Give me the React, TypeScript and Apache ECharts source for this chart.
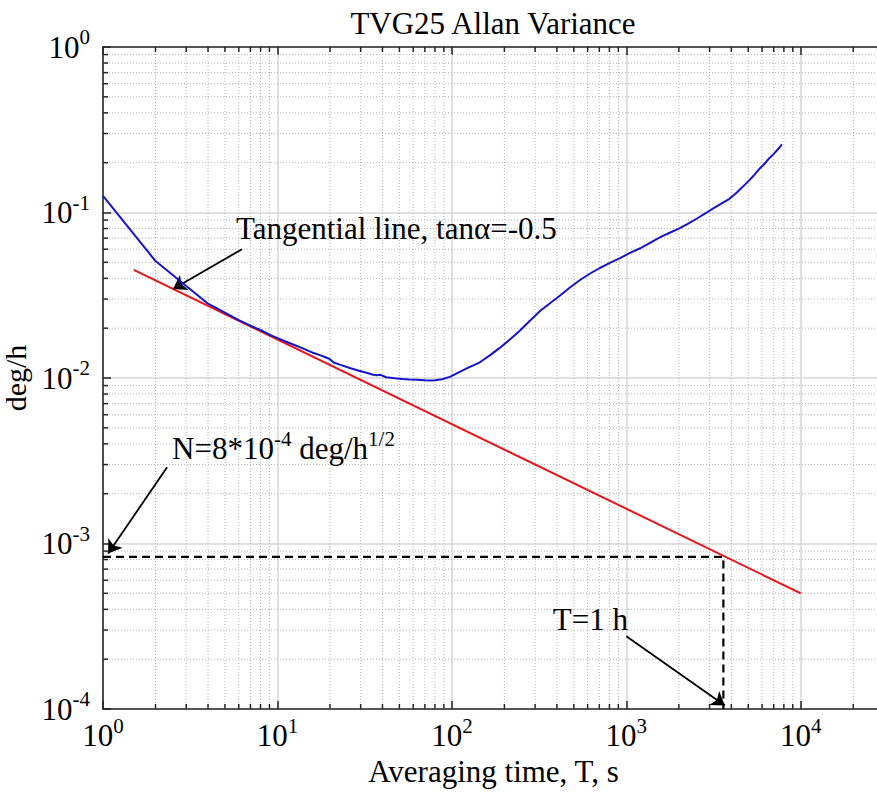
import React, { useEffect, useRef } from 'react';
import * as echarts from 'echarts';

// ---- data ----
const blueT = [1, 2, 3, 4, 5, 6, 7, 8, 9, 10, 12, 14, 16, 18, 19, 20, 21, 23, 26, 29, 32, 35, 37, 39, 42, 47, 52, 57, 63, 70, 75, 80, 88, 98, 111, 125, 144, 165, 188, 215, 245, 280, 320, 365, 417, 475, 543, 620, 705, 800, 920, 1050, 1200, 1350, 1510, 1620, 1800, 2000, 2250, 2540, 2850, 3150, 3500, 3900, 4300, 4900, 5400, 5800, 6200, 6600, 7000, 7400, 7800];
const blueV = [0.126, 0.0509, 0.036, 0.0281, 0.0248, 0.0224, 0.0207, 0.0195, 0.0183, 0.0174, 0.0161, 0.0151, 0.0142, 0.0136, 0.0133, 0.013, 0.0124, 0.012, 0.0115, 0.0111, 0.0108, 0.0105, 0.0104, 0.01045, 0.0101, 0.00995, 0.00985, 0.0098, 0.00975, 0.00968, 0.00966, 0.0097, 0.00982, 0.0102, 0.0109, 0.0116, 0.0124, 0.0137, 0.0152, 0.0171, 0.0193, 0.0222, 0.0254, 0.0283, 0.0315, 0.0352, 0.0391, 0.0428, 0.0462, 0.0495, 0.053, 0.057, 0.0608, 0.065, 0.0695, 0.0722, 0.076, 0.08, 0.0855, 0.092, 0.099, 0.106, 0.113, 0.121, 0.132, 0.151, 0.168, 0.184, 0.197, 0.213, 0.226, 0.241, 0.258];

const redT = [1.5, 10000];
const redV = [0.045, 0.0005];

const dashT = [1, 3600, 3600];
const dashV = [0.00083, 0.00083, 0.0001];

const arrowFromT = [6.26, 2.33, 1000];
const arrowFromV = [0.06, 0.00289, 0.000275];
const arrowToT = [2.52, 1.07, 3670];
const arrowToV = [0.0345, 0.00087, 0.000105];

const noteText = ['{b|Tangential line, tanα=-0.5}', '{b|N=8*10}{s|-4}{b| deg/h}{s|1/2}', '{b|T=1 h}'];
const noteT = [5.78, 2.49, 379];
const noteV = [0.0801, 0.00377, 0.000348];

const xTickExp = [0, 1, 2, 3, 4];
const yTickExp = [-4, -3, -2, -1, 0];
const X_MIN = 1, X_MAX = 30000, Y_MIN = 1e-4, Y_MAX = 1;

const xMinor: number[] = [];
[1, 10, 100, 1000, 10000].forEach((d) => { for (let k = 2; k <= 9; k++) if (d * k < X_MAX) xMinor.push(d * k); });
const yMinor: number[] = [];
[1e-4, 1e-3, 1e-2, 1e-1].forEach((d) => { for (let k = 2; k <= 9; k++) yMinor.push(d * k); });

const FONT = 'Liberation Serif, Times New Roman, serif';
const AXC = '#262626';

const supRich = (big: number, small: number, pad: number) => ({
  b: { fontSize: big, lineHeight: big, fontFamily: FONT, color: '#000', verticalAlign: 'bottom' },
  s: { fontSize: small, lineHeight: small, fontFamily: FONT, color: '#000', verticalAlign: 'bottom', padding: [0, 0, pad, 0] },
});

const powLabel = (exps: number[]) => (v: number) => {
  const e = Math.log10(v);
  const r = Math.round(e);
  if (Math.abs(e - r) > 1e-6 || exps.indexOf(r) < 0) return '';
  return `{b|10}{s|${r}}`;
};

export default function App() {
  const ref = useRef<HTMLDivElement>(null);
  useEffect(() => {
    if (!ref.current) return;
    const chart = echarts.init(ref.current, undefined, { renderer: 'svg' });
    const gridStroke = '#b4b4b4';
    const option: any = {
      animation: false,
      backgroundColor: '#ffffff',
      title: {
        text: 'TVG25 Allan Variance',
        left: 488,
        top: 3,
        textAlign: 'center',
        textStyle: { fontFamily: FONT, fontSize: 31, fontWeight: 'normal', color: '#000' },
      },
      grid: { left: 103, top: 47, right: -7, bottom: 90, containLabel: false, outerBoundsMode: 'none' },
      xAxis: [
        {
          type: 'log', logBase: 10, min: X_MIN, max: X_MAX, position: 'bottom',
          name: 'Averaging time, T, s', nameLocation: 'middle', nameGap: 46,
          nameTextStyle: { fontFamily: FONT, fontSize: 31, color: '#000' },
          axisLine: { show: true, onZero: false, lineStyle: { color: AXC, width: 1.6 } },
          axisTick: { show: true, inside: true, length: 8, lineStyle: { color: AXC, width: 1.5 } },
          axisLabel: { formatter: powLabel(xTickExp), margin: 11, rich: supRich(31, 21, 15) },
          splitLine: { show: true, lineStyle: { color: '#d6d6d6', width: 1.5 } },
        },
        {
          type: 'log', logBase: 10, min: X_MIN, max: X_MAX, position: 'top',
          axisLine: { show: true, onZero: false, lineStyle: { color: AXC, width: 1.6 } },
          axisTick: { show: true, inside: true, length: 8, lineStyle: { color: AXC, width: 1.5 } },
          axisLabel: { show: false },
          splitLine: { show: false },
        },
      ],
      yAxis: [
        {
          type: 'log', logBase: 10, min: Y_MIN, max: Y_MAX, position: 'left',
          name: 'deg/h', nameLocation: 'middle', nameGap: 66, nameRotate: 90,
          nameTextStyle: { fontFamily: FONT, fontSize: 30, lineHeight: 30, color: '#000' },
          axisLine: { show: true, onZero: false, lineStyle: { color: AXC, width: 1.6 } },
          axisTick: { show: true, inside: true, length: 8, lineStyle: { color: AXC, width: 1.5 } },
          axisLabel: { formatter: powLabel(yTickExp), margin: 13, rich: supRich(31, 21, 15) },
          splitLine: { show: true, lineStyle: { color: '#d6d6d6', width: 1.5 } },
        },
      ],
      series: [
        {
          type: 'custom', silent: true, z: 1,
          data: xMinor.map((x) => [x, Y_MIN]),
          renderItem: (params: any, api: any) => {
            const x = api.value(0);
            const b = api.coord([x, Y_MIN]);
            const t = api.coord([x, Y_MAX]);
            return {
              type: 'group',
              children: [
                { type: 'line', shape: { x1: b[0], y1: b[1], x2: b[0], y2: t[1] }, style: { stroke: gridStroke, lineWidth: 1, lineDash: [1, 2] } },
                { type: 'line', shape: { x1: b[0], y1: b[1], x2: b[0], y2: b[1] - 5 }, style: { stroke: AXC, lineWidth: 1.5 } },
                { type: 'line', shape: { x1: t[0], y1: t[1], x2: t[0], y2: t[1] + 5 }, style: { stroke: AXC, lineWidth: 1.5 } },
              ],
            };
          },
        },
        {
          type: 'custom', silent: true, z: 1,
          data: yMinor.map((y) => [X_MIN, y]),
          renderItem: (params: any, api: any) => {
            const y = api.value(1);
            const l = api.coord([X_MIN, y]);
            const r = api.coord([X_MAX, y]);
            return {
              type: 'group',
              children: [
                { type: 'line', shape: { x1: l[0], y1: l[1], x2: r[0], y2: l[1] }, style: { stroke: gridStroke, lineWidth: 1, lineDash: [1, 2] } },
                { type: 'line', shape: { x1: l[0], y1: l[1], x2: l[0] + 5, y2: l[1] }, style: { stroke: AXC, lineWidth: 1.5 } },
              ],
            };
          },
        },
        {
          type: 'line', z: 3, silent: true, showSymbol: false, symbol: 'none',
          data: dashT.map((t, i) => [t, dashV[i]]),
          lineStyle: { color: '#000', width: 2.2, type: [8, 5] },
          markLine: {
            silent: true, symbol: ['none', 'arrow'], symbolSize: 13,
            lineStyle: { color: '#000', width: 1.8, type: 'solid' },
            label: { show: false },
            emphasis: { disabled: true },
            data: arrowFromT.map((t, i) => [
              { coord: [t, arrowFromV[i]] },
              { coord: [arrowToT[i], arrowToV[i]] },
            ]),
          },
          markPoint: {
            silent: true, symbol: 'circle', symbolSize: 0,
            label: { show: true, position: 'right', distance: 0, rich: supRich(31, 21, 14) },
            data: noteText.map((n, i) => ({
              coord: [noteT[i], noteV[i]],
              label: { formatter: n },
            })),
          },
        },
        {
          type: 'line', z: 4, silent: true, showSymbol: false, symbol: 'none',
          data: redT.map((t, i) => [t, redV[i]]),
          lineStyle: { color: '#e8141a', width: 2 },
        },
        {
          type: 'line', z: 5, silent: true, showSymbol: false, symbol: 'none',
          data: blueT.map((t, i) => [t, blueV[i]]),
          lineStyle: { color: '#1414cc', width: 2 },
        },
      ],
    };
    chart.setOption(option);
    return () => chart.dispose();
  }, []);
  return (
    <div
      ref={ref}
      style={{ position: 'absolute', left: 0, top: 0, width: 877, height: 799, background: '#fff' }}
    />
  );
}
